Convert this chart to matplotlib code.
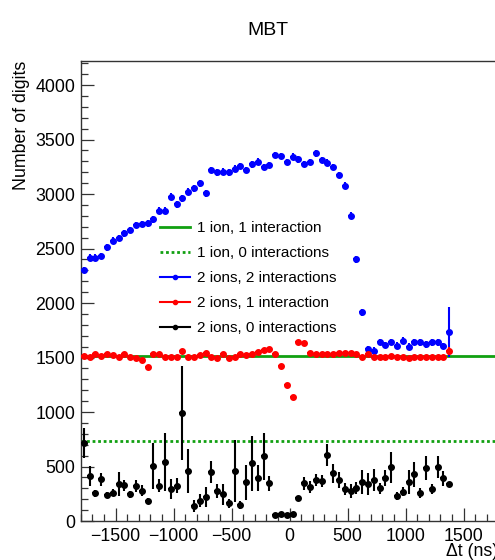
import numpy as np
import matplotlib
matplotlib.use("Agg")
import matplotlib.pyplot as plt
from matplotlib.lines import Line2D
from matplotlib.ticker import MultipleLocator

plt.rcParams['font.family'] = ['Liberation Sans', 'DejaVu Sans']

# bin centres (ns), 50 ns bins
dt = np.arange(-1775, 1376, 50)

# 2 ions, 2 interactions
two_two = [2303, 2416, 2416, 2431, 2511, 2572, 2596, 2639, 2670, 2716,
           2725, 2731, 2768, 2847, 2847, 2975, 2905, 2960, 3021, 3052,
           3098, 3006, 3220, 3199, 3205, 3199, 3232, 3257, 3220, 3273,
           3297, 3250, 3266, 3358, 3349, 3294, 3342, 3318, 3275, 3294,
           3373, 3312, 3287, 3250, 3174, 3076, 2801, 2401, 1915, 1578,
           1562, 1642, 1615, 1642, 1608, 1654, 1599, 1642, 1640, 1621,
           1640, 1640, 1605, 1731]
two_two_err = [30] * 63 + [230]

# 2 ions, 1 interaction
two_one = [1514, 1502, 1529, 1517, 1529, 1520, 1507, 1532, 1502, 1493,
           1477, 1416, 1532, 1532, 1507, 1502, 1502, 1557, 1502, 1502,
           1520, 1541, 1502, 1493, 1529, 1493, 1507, 1529, 1520, 1529,
           1550, 1569, 1575, 1530, 1425, 1248, 1135, 1639, 1630, 1544,
           1532, 1532, 1532, 1532, 1538, 1544, 1538, 1532, 1508, 1532,
           1502, 1502, 1502, 1514, 1508, 1508, 1498, 1508, 1502, 1502,
           1502, 1502, 1502, 1560]
two_one_err = [15] * 63 + [40]

# 2 ions, 0 interactions
two_zero = [718, 413, 254, 382, 239, 260, 339, 330, 245, 324,
            278, 183, 505, 324, 538, 294, 324, 988, 459, 140,
            186, 223, 447, 275, 245, 162, 461, 147, 355, 529,
            395, 595, 346, 55, 61, 55, 61, 208, 346, 315,
            376, 367, 606, 437, 376, 291, 278, 300, 355, 339,
            376, 300, 392, 493, 229, 269, 355, 431, 254, 483,
            294, 493, 392, 339]
two_zero_err = [137, 95, 35, 60, 30, 30, 110, 50, 30, 55,
                50, 25, 210, 60, 265, 90, 70, 430, 200, 55,
                60, 90, 100, 65, 95, 40, 283, 40, 160, 250,
                120, 215, 70, 10, 10, 10, 10, 25, 60, 55,
                55, 55, 100, 85, 75, 55, 65, 55, 110, 100,
                100, 50, 75, 140, 40, 40, 110, 115, 45, 110,
                45, 100, 70, 20]

# single-ion reference levels
one_one = 1515
one_zero = 738

labels = ["1 ion, 1 interaction", "1 ion, 0 interactions",
          "2 ions, 2 interactions", "2 ions, 1 interaction",
          "2 ions, 0 interactions"]

green = '#11a011'

fig = plt.figure(figsize=(4.95, 5.6), dpi=100)
ax = fig.add_axes([0.1634, 0.0696, 0.8436, 0.8214])

ax.axhline(one_one, color=green, lw=2.0, zorder=1)
ax.axhline(one_zero, color=green, lw=2.0, ls=(0, (1.0, 1.0)), zorder=1)

for y, e, c in [(two_two, two_two_err, 'blue'),
                (two_one, two_one_err, 'red'),
                (two_zero, two_zero_err, 'black')]:
    ax.errorbar(dt, y, yerr=e, xerr=25, fmt='o', color=c, ms=4,
                elinewidth=1.5, capsize=0, zorder=3)

ax.set_xlim(-1800, 1800)
ax.set_ylim(0, 4220)
ax.xaxis.set_major_locator(MultipleLocator(500))
ax.xaxis.set_minor_locator(MultipleLocator(100))
ax.yaxis.set_major_locator(MultipleLocator(500))
ax.yaxis.set_minor_locator(MultipleLocator(100))
ax.tick_params(which='both', direction='in', top=False, right=False,
               labelsize=12.8, color='#333333')
ax.tick_params(which='major', length=9.4, width=0.9)
ax.tick_params(which='minor', length=5, width=0.9)
ax.tick_params(axis='x', pad=5)
ax.tick_params(axis='y', pad=4)
for s in ax.spines.values():
    s.set_color('#333333')
    s.set_linewidth(1.0)

ax.set_ylabel("Number of digits", fontsize=12.8, loc='top')
ax.yaxis.set_label_coords(-0.122, 1.0)
ax.set_xlabel("Δt (ns)", fontsize=12.8, loc='right')
ax.xaxis.set_label_coords(1.0, -0.048)

fig.text(0.541, 0.946, "MBT", ha='center', va='center', fontsize=14)

handles = [Line2D([], [], color=green, lw=2.0),
           Line2D([], [], color=green, lw=2.0, ls=(0, (1.0, 1.0))),
           Line2D([], [], color='blue', lw=1.5, marker='o', ms=3),
           Line2D([], [], color='red', lw=1.5, marker='o', ms=3),
           Line2D([], [], color='black', lw=1.5, marker='o', ms=3)]
leg = ax.legend(handles, labels, loc='upper left',
                bbox_to_anchor=(160 / 495, 1 - 221 / 560),
                bbox_transform=fig.transFigure, fontsize=11,
                frameon=True, fancybox=False, borderpad=0.0,
                handlelength=1.95, handletextpad=0.5, labelspacing=0.72,
                borderaxespad=0.0)
leg.get_frame().set_edgecolor('white')
leg.get_frame().set_facecolor('white')
leg.get_frame().set_alpha(1.0)
leg.set_zorder(5)

fig.savefig("out.png", dpi=100)
